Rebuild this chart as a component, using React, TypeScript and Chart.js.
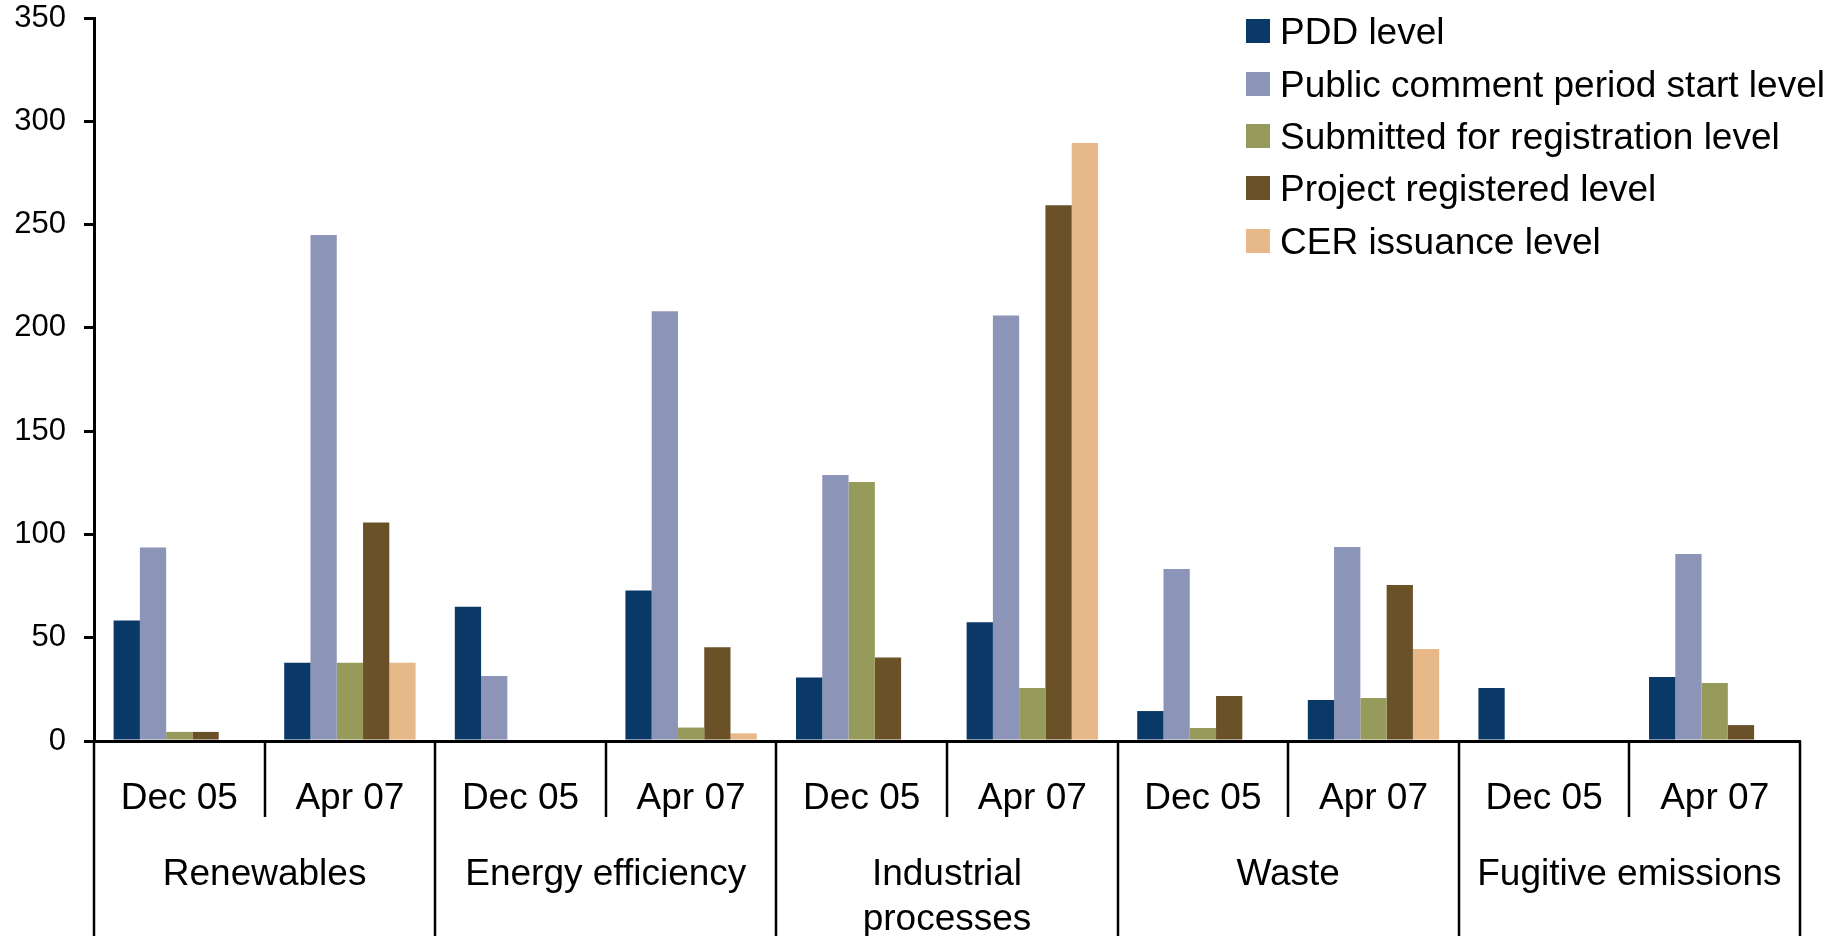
import React, { useEffect, useRef } from "react";
import { Chart, registerables } from "chart.js";

Chart.register(...registerables);

const FONT = '"Liberation Sans", Arial, Helvetica, sans-serif';

// Sub-categories (periods) along the x axis
const periods = ["Dec 05", "Apr 07", "Dec 05", "Apr 07", "Dec 05", "Apr 07", "Dec 05", "Apr 07", "Dec 05", "Apr 07"];
// Sector groups (each spans two periods); multi-line labels as arrays
const sectors = [["Renewables"], ["Energy efficiency"], ["Industrial", "processes"], ["Waste"], ["Fugitive emissions"]];

// Series values
const pddLevel = [58.3, 37.9, 65, 72.8, 30.8, 57.5, 14.5, 19.9, 25.7, 31];
const publicCommentLevel = [93.7, 245, 31.5, 208, 128.8, 206, 83.3, 93.9, 0, 90.5];
const submittedLevel = [4.4, 37.9, 0, 6.5, 125.4, 25.6, 6.3, 20.8, 0, 28.1];
const registeredLevel = [4.4, 105.8, 0, 45.4, 40.4, 259.4, 21.8, 75.5, 0, 7.7];
const cerLevel = [0, 37.9, 0, 3.7, 0, 289.5, 0, 44.5, 0, 0];

const seriesNames = [
  "PDD level",
  "Public comment period start level",
  "Submitted for registration level",
  "Project registered level",
  "CER issuance level",
];
const seriesColors = ["#0A3867", "#8C95B7", "#969A5B", "#6A5128", "#E7B888"];
const seriesValues = [pddLevel, publicCommentLevel, submittedLevel, registeredLevel, cerLevel];

// Y axis
const yMin = 0;
const yMax = 350;
const yStep = 50;

const groupPlugin = {
  id: "sectorGroups",
  afterDraw(chart: any) {
    const xs = chart.scales.x;
    const ctx = chart.ctx;
    const axisY = chart.chartArea.bottom;
    const n = periods.length;
    const step = xs.getPixelForValue(1) - xs.getPixelForValue(0);
    const first = xs.getPixelForValue(0) - step / 2;
    ctx.save();
    ctx.strokeStyle = "#000";
    ctx.lineWidth = 2.5;
    for (let i = 0; i <= n; i++) {
      const px = Math.round(first + i * step);
      const edge = i % 2 === 0;
      ctx.beginPath();
      ctx.moveTo(px, axisY);
      ctx.lineTo(px, edge ? chart.height : axisY + 76);
      ctx.stroke();
    }
    ctx.fillStyle = "#000";
    ctx.font = `37px ${FONT}`;
    ctx.textAlign = "center";
    ctx.textBaseline = "middle";
    sectors.forEach((lines, g) => {
      const cx = (xs.getPixelForValue(2 * g) + xs.getPixelForValue(2 * g + 1)) / 2;
      lines.forEach((line, k) => {
        ctx.fillText(line, cx, axisY + 134 + k * 45);
      });
    });
    ctx.restore();
  },
};

export default function App() {
  const ref = useRef<HTMLCanvasElement | null>(null);

  useEffect(() => {
    if (!ref.current) return;
    Chart.defaults.font.family = FONT;
    const chart = new Chart(ref.current, {
      type: "bar",
      data: {
        labels: periods,
        datasets: seriesNames.map((name, i) => ({
          label: name,
          data: seriesValues[i],
          backgroundColor: seriesColors[i],
          borderWidth: 0,
          barPercentage: 1,
          categoryPercentage: 0.77,
        })),
      },
      options: {
        responsive: false,
        animation: false,
        layout: { padding: { left: 0, right: 48, top: 18, bottom: 0 } },
        plugins: {
          legend: { display: false },
          tooltip: { enabled: false },
        },
        scales: {
          x: {
            grid: { display: false, drawTicks: false },
            border: { display: true, color: "#000", width: 3 },
            ticks: {
              color: "#000",
              font: { size: 37, family: FONT },
              padding: 36,
              maxRotation: 0,
              autoSkip: false,
            },
            afterFit(s: any) {
              s.height = 195;
            },
          },
          y: {
            min: yMin,
            max: yMax,
            ticks: {
              stepSize: yStep,
              color: "#000",
              font: { size: 31, family: FONT, lineHeight: 1 },
              padding: 18,
            },
            grid: {
              drawOnChartArea: false,
              drawTicks: true,
              tickLength: 10,
              color: "#000",
              lineWidth: 3,
            },
            border: { display: true, color: "#000", width: 3 },
            afterFit(s: any) {
              s.width = 94;
              s.paddingTop = 0;
              s.paddingBottom = 0;
            },
          },
        },
      },
      plugins: [groupPlugin],
    });
    return () => chart.destroy();
  }, []);

  return (
    <div style={{ position: "fixed", left: 0, top: 0, width: 1848, height: 936, background: "#fff", overflow: "hidden" }}>
      <canvas ref={ref} width={1848} height={936} style={{ display: "block", width: 1848, height: 936 }} />
      <div style={{ position: "absolute", left: 1246, top: 5, fontFamily: FONT, fontSize: 37, color: "#000" }}>
        {seriesNames.map((name, i) => (
          <div key={name} style={{ display: "flex", alignItems: "center", height: 52.4, whiteSpace: "nowrap" }}>
            <span style={{ display: "inline-block", width: 24, height: 24, background: seriesColors[i], marginRight: 10 }} />
            <span style={{ position: "relative", top: 1 }}>{name}</span>
          </div>
        ))}
      </div>
    </div>
  );
}
